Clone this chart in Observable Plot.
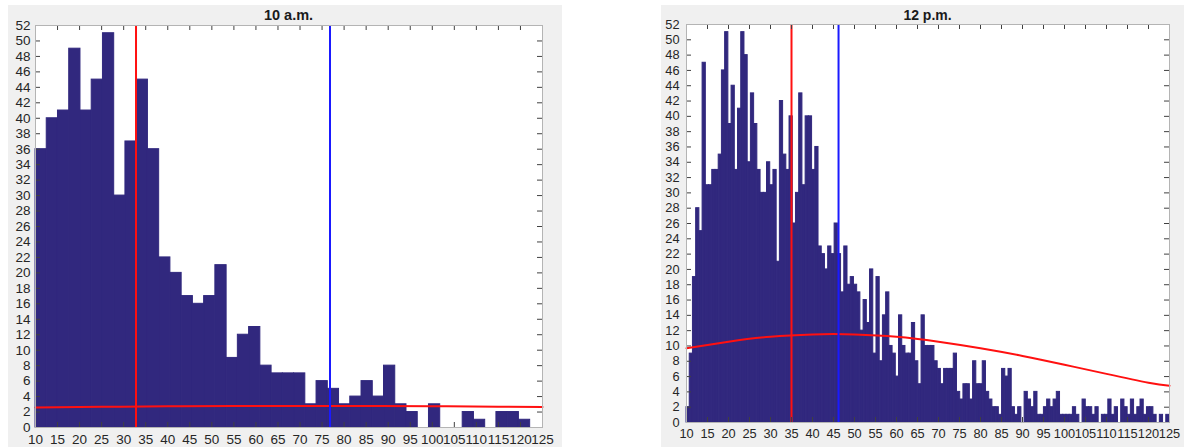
<!DOCTYPE html>
<html>
<head>
<meta charset="utf-8">
<script src="https://cdn.jsdelivr.net/npm/d3@7"></script>
<script src="https://cdn.jsdelivr.net/npm/@observablehq/plot@0.6"></script>
<style>
  html, body { margin: 0; padding: 0; background: #ffffff; width: 1184px; height: 447px; overflow: hidden; }
  .panel { position: absolute; background: #f0f0f0; }
  .title { position: absolute; font-family: "Liberation Sans", Arial, sans-serif; font-weight: bold; color: #1a1a1a; text-align: center; white-space: nowrap; }
  .panel svg { position: absolute; left: 0; top: 0; }
</style>
</head>
<body>
<div id="p1" class="panel" style="left:8px; top:5px; width:554px; height:442px;"></div>
<div id="p2" class="panel" style="left:661px; top:5px; width:523px; height:442px;"></div>
<script>
// ---------------- data ----------------
const xTicks = [10,15,20,25,30,35,40,45,50,55,60,65,70,75,80,85,90,95,100,105,110,115,120,125];
const yTicks = [0,2,4,6,8,10,12,14,16,18,20,22,24,26,28,30,32,34,36,38,40,42,44,46,48,50,52];

const titles = ["10 a.m.", "12 p.m."];

// 10 a.m. histogram: bins start at 10, width 2.55
const amStart = 10;
const amBinWidth = 2.55;
const amCounts = [36,40,41,49,41,45,51,30,37,45,36,22,20,17,16,17,21,9,12,13,8,7,7,7,
                  3,6,5,3,4,6,4,8,3,2,0,3,0,0,2,1,0,2,2,1,0];
const amRedX = 32.8;
const amBlueX = 76.8;
const amFitX = [10, 25, 40, 55, 70, 85, 100, 115, 125];
const amFitY = [2.6, 2.68, 2.74, 2.78, 2.79, 2.78, 2.75, 2.7, 2.66];

// 12 p.m. histogram: bins start at 10, width 115/150
const pmStart = 10;
const pmBinWidth = 115 / 150;
const pmCounts = [
  2,9,19,28,25,47,31,31,33,33, 35,46,51,39,44,33,41,51,48,34,
  43,39,33,30,30,34,31,33,21,42, 35,33,40,26,30,43,31,40,40,33,
  36,23,22,20,23,22,26,22,17,23, 18,19,18,17,12,16,13,20,9,19,
  8,14,17,10,9,6,14,10,9,9, 13,8,5,14,10,10,10,8,7,5,
  7,7,7,9,4,3,5,5,3,8, 5,5,8,4,3,2,2,1,7,6,
  7,2,1,2,0,4,3,2,4,1, 1,2,3,2,3,4,1,1,1,1,
  2,1,0,3,2,2,1,2,0,1, 1,3,1,2,0,3,2,1,3,1,
  2,3,1,2,2,1,0,1,0,1
];
const pmRedX = 35.0;
const pmBlueX = 46.2;
const pmFitX = [10, 20, 30, 40, 45, 50, 60, 70, 80, 90, 100, 110, 120, 125];
const pmFitY = [9.7, 10.55, 11.2, 11.5, 11.55, 11.5, 11.2, 10.55, 9.7, 8.7, 7.55, 6.35, 5.2, 4.8];

// ---------------- build ----------------
const barFill = "#31287e";

function bins(start, width, counts) {
  return counts.map((c, i) => ({x0: start + i * width, x1: start + (i + 1) * width, count: c}));
}

function panel({width, height, mL, mR, mT, mB, fontSize, padX, padY, data, redX, blueX, fitX, fitY}) {
  const innerW = width - mL - mR;
  const innerH = height - mT - mB;
  const fit = fitX.map((x, i) => ({x, y: fitY[i]}));
  const tick = 5;
  const tickColor = "#404040";
  return Plot.plot({
    width, height,
    marginLeft: mL, marginRight: mR, marginTop: mT, marginBottom: mB,
    style: {background: "transparent", fontFamily: "'Liberation Sans', Arial, sans-serif", fontSize: fontSize + "px", color: "#262626", overflow: "visible"},
    x: {domain: [10, 125], label: null},
    y: {domain: [0, 52], label: null},
    marks: [
      Plot.frame({fill: "#ffffff"}),
      Plot.rectY(data, {x1: "x0", x2: "x1", y: "count", fill: barFill, stroke: barFill, strokeWidth: 1}),
      Plot.line(fit, {x: "x", y: "y", stroke: "#ff1010", strokeWidth: 2, curve: "natural"}),
      Plot.ruleX([redX], {stroke: "#ff1010", strokeWidth: 2}),
      Plot.ruleX([blueX], {stroke: "#1a1aff", strokeWidth: 2}),
      Plot.tickX(xTicks, {x: d => d, insetTop: innerH - tick, stroke: tickColor, strokeWidth: 1}),
      Plot.tickX(xTicks, {x: d => d, insetBottom: innerH - tick, stroke: tickColor, strokeWidth: 1}),
      Plot.tickY(yTicks, {y: d => d, insetRight: innerW - tick, stroke: tickColor, strokeWidth: 1}),
      Plot.tickY(yTicks, {y: d => d, insetLeft: innerW - tick, stroke: tickColor, strokeWidth: 1}),
      Plot.frame({stroke: "#b4b4b4", strokeWidth: 1}),
      Plot.axisX(xTicks, {anchor: "bottom", tickSize: 0, tickPadding: padX, tickFormat: d => String(d), fill: "#262626"}),
      Plot.axisY(yTicks, {anchor: "left", tickSize: 0, tickPadding: padY, tickFormat: d => String(d), fill: "#262626"})
    ]
  });
}

const p1 = document.getElementById("p1");
const p2 = document.getElementById("p2");

// left panel: plot area x 35..542, y 25..427 (page coords); panel origin (8,5)
p1.append(panel({
  width: 554, height: 442, mL: 27, mR: 20, mT: 20, mB: 20,
  fontSize: 13.5, padX: 7, padY: 5,
  data: bins(amStart, amBinWidth, amCounts), redX: amRedX, blueX: amBlueX, fitX: amFitX, fitY: amFitY
}));
// right panel: plot area x 686..1169, y 24..422; panel origin (661,5)
p2.append(panel({
  width: 523, height: 442, mL: 25, mR: 15, mT: 19, mB: 25,
  fontSize: 12.8, padX: 6, padY: 7,
  data: bins(pmStart, pmBinWidth, pmCounts), redX: pmRedX, blueX: pmBlueX, fitX: pmFitX, fitY: pmFitY
}));

const t1 = document.createElement("div");
t1.className = "title"; t1.textContent = titles[0];
t1.style.cssText = "left:0; width:507px; top:2px; font-size:14.5px; margin-left:27px;";
p1.append(t1);
const t2 = document.createElement("div");
t2.className = "title"; t2.textContent = titles[1];
t2.style.cssText = "left:0; width:483px; top:2px; font-size:14px; margin-left:25px;";
p2.append(t2);
</script>
</body>
</html>
